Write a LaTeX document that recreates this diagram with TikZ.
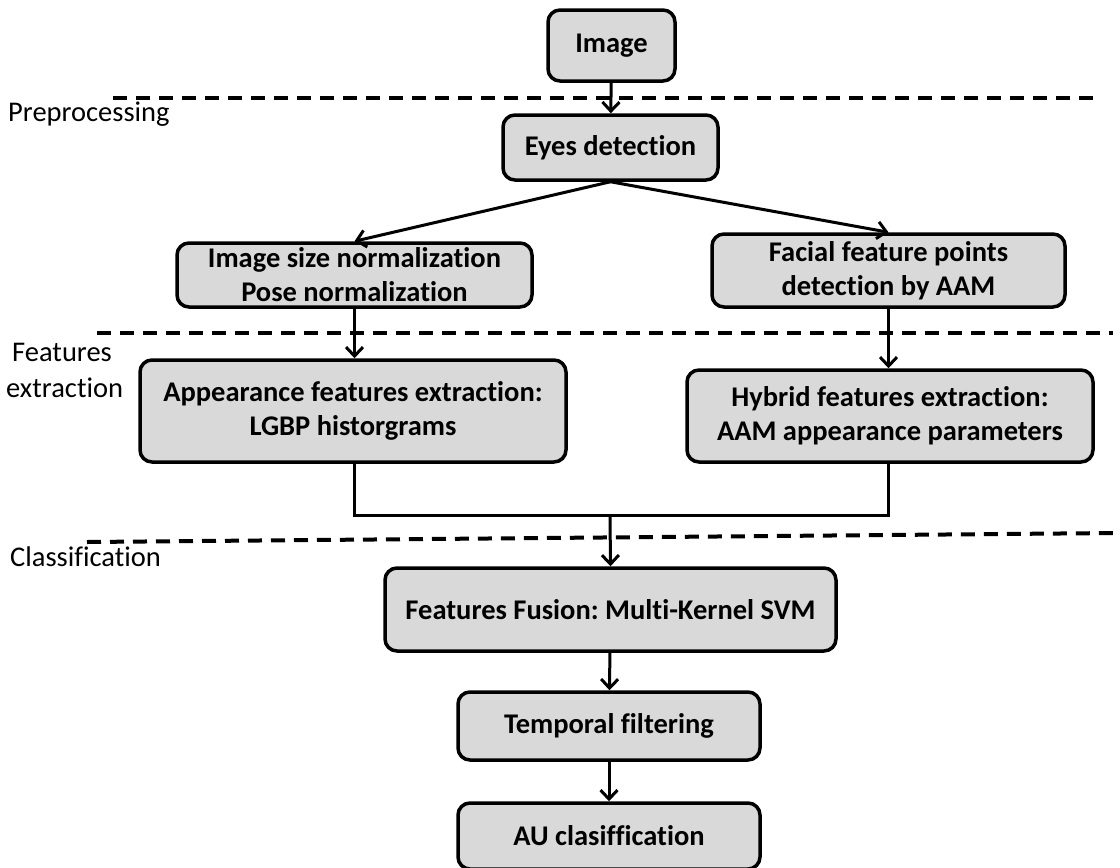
\documentclass[tikz,border=0pt]{standalone}
\usepackage{fontspec}
\setmainfont{Carlito}[Ligatures=NoCommon]
\usetikzlibrary{arrows.meta}
\definecolor{boxgray}{HTML}{D9D9D9}
\frenchspacing
\begin{document}
\begin{tikzpicture}[x=1pt,y=-1pt,
  box/.style={draw=black, line width=3.5pt, fill=boxgray, rounded corners=12pt,
    align=center, inner sep=0pt, font=\bfseries\fontsize{28.5}{34}\selectfont},
  lab/.style={anchor=west, align=left, inner sep=0pt, font=\fontsize{28.5}{36}\selectfont},
  arr/.style={line width=3pt, -{Straight Barb[length=9pt,width=17pt]}},
  conn/.style={line width=3pt},
  sep/.style={line width=4pt, dash pattern=on 14pt off 9pt}]
\useasboundingbox (0,0) rectangle (1120,868);

% separators
\coordinate (s1a) at (113,98);  \coordinate (s1b) at (1102,98);
\coordinate (s2a) at (97,333);  \coordinate (s2b) at (1113,333);
\coordinate (s3a) at (87,542);  \coordinate (s3b) at (1117,533);
\draw[sep] (s1a) -- (s1b);
\draw[sep] (s2a) -- (s2b);
\draw[sep] (s3a) -- (s3b);

% labels
\node[lab] (pre) at (8,114) {Preprocessing};
\node[lab] (fex) at (6,370) {\hspace*{6pt}Features\\extraction};
\node[lab] (cls) at (10,557) {Classification};

% boxes
\node[box, minimum width=127pt, minimum height=71pt] (img) at (611.5,45.5) {Image};
\node[box, minimum width=215pt, minimum height=65pt] (eye) at (610.5,147.5) {Eyes detection};
\node[box, minimum width=355pt, minimum height=64pt] (nrm) at (354.5,275) {Image size normalization\\Pose normalization};
\node[box, minimum width=353pt, minimum height=73pt] (fac) at (888.5,270.5) {Facial feature points\\detection by AAM};
\node[box, minimum width=426pt, minimum height=102pt] (app) at (353,411) {Appearance features extraction:\\LGBP historgrams};
\node[box, minimum width=406pt, minimum height=92pt] (hyb) at (890,416) {Hybrid features extraction:\\AAM appearance parameters};
\node[box, minimum width=451pt, minimum height=83pt] (fus) at (610.5,609.5) {Features Fusion: Multi-Kernel SVM};
\node[box, minimum width=302pt, minimum height=68pt] (tmp) at (609,726) {Temporal filtering};
\node[box, minimum width=302pt, minimum height=66pt] (au) at (609,836) {AU clasiffication};

% connectors
\coordinate (j) at (610,515);
\draw[arr] (img) -- (eye);
\draw[arr] (eye.south) -- (nrm.north);
\draw[arr] (eye.south) -- (fac.north);
\draw[arr] (nrm.south) -- (nrm.south |- app.north);
\draw[arr] (fac.south) -- (fac.south |- hyb.north);
\draw[conn] (app.south -| nrm.south) |- (j) -| (hyb.south -| fac.south);
\draw[arr] (j) -- (fus.north);
\draw[arr] (fus) -- (tmp);
\draw[arr] (tmp) -- (au);
\end{tikzpicture}
\end{document}
